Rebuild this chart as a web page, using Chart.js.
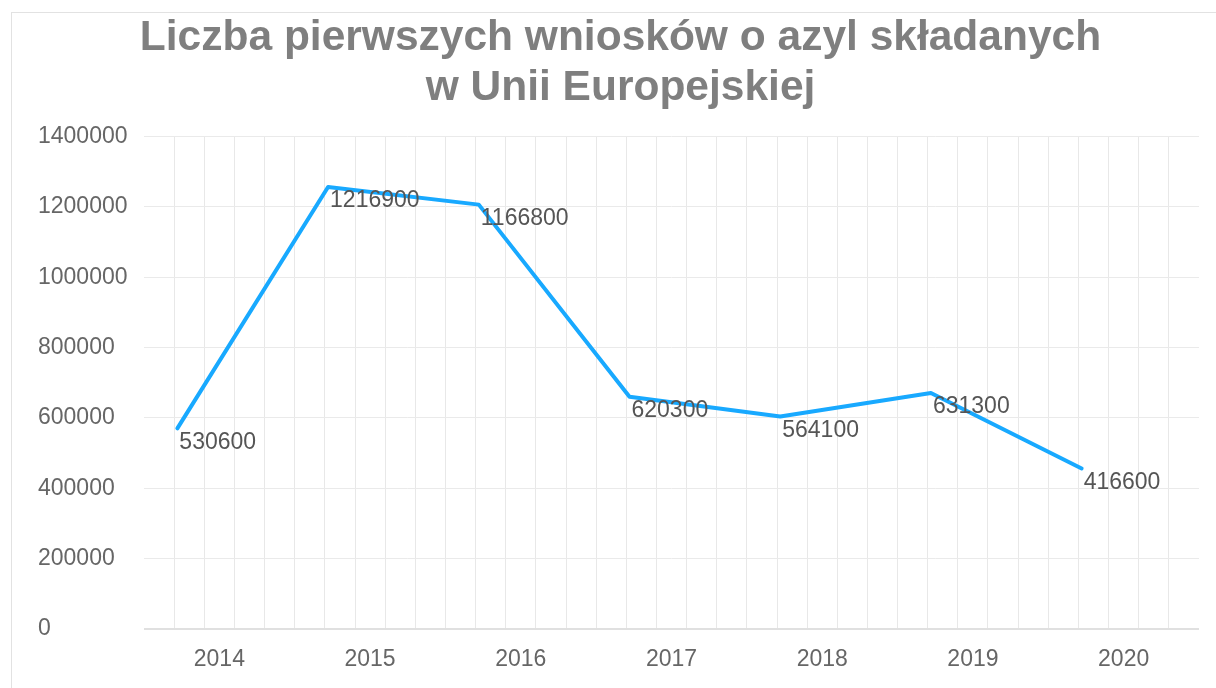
<!DOCTYPE html>
<html>
<head>
<meta charset="utf-8">
<script src="https://cdn.jsdelivr.net/npm/chart.js@4.4.1/dist/chart.umd.min.js"></script>
<style>
  html, body { margin: 0; padding: 0; background: #ffffff; }
  #wrap { position: relative; width: 1216px; height: 688px; overflow: hidden; }
  #frame { position: absolute; left: 11px; top: 12px; width: 1300px; height: 800px; border: 1px solid #e2e2e2; box-sizing: border-box; }
  canvas { position: absolute; left: 0; top: 0; }
</style>
</head>
<body>
<div id="wrap">
  <div id="frame"></div>
  <canvas id="c" width="1216" height="688"></canvas>
</div>
<script>
// ---- data ----
const years = ['2014', '2015', '2016', '2017', '2018', '2019', '2020'];
const applications = [530600, 1216900, 1166800, 620300, 564100, 631300, 416600];
const titleLines = ['Liczba pierwszych wniosków o azyl składanych', 'w Unii Europejskiej'];
const yTicks = { min: 0, max: 1400000, step: 200000 };

// ---- style ----
const FONT = "'Liberation Sans', Arial, sans-serif";
const lineShift = { x: -42, y: -14 };   // the reference draws the line offset from its labels
const labelGap = 2;
const minorPerCategory = 5;

const shiftPlugin = {
  id: 'shiftLine',
  beforeDatasetDraw(chart) { chart.ctx.save(); chart.ctx.translate(lineShift.x, lineShift.y); },
  afterDatasetDraw(chart) { chart.ctx.restore(); }
};

const labelPlugin = {
  id: 'valueLabels',
  afterDatasetsDraw(chart) {
    const ctx = chart.ctx;
    const meta = chart.getDatasetMeta(0);
    ctx.save();
    ctx.font = '23px ' + FONT;
    ctx.fillStyle = '#555555';
    ctx.textAlign = 'left';
    ctx.textBaseline = 'middle';
    meta.data.forEach((pt, i) => {
      ctx.fillText(String(applications[i]), pt.x + lineShift.x + labelGap, pt.y);
    });
    ctx.restore();
  }
};

new Chart(document.getElementById('c'), {
  type: 'line',
  data: {
    datasets: [{
      data: applications.map((v, i) => ({ x: i + 0.5, y: v })),
      borderColor: '#18a9ff',
      borderWidth: 4,
      pointRadius: 0,
      tension: 0,
      borderJoinStyle: 'round',
      borderCapStyle: 'round',
      fill: false
    }]
  },
  options: {
    responsive: false,
    animation: false,
    layout: { padding: { left: 38, right: 13, top: 0, bottom: 0 } },
    plugins: {
      legend: { display: false },
      tooltip: { enabled: false },
      title: {
        display: true,
        text: titleLines,
        color: '#7f7f7f',
        font: { family: FONT, size: 42.5, weight: 'bold', lineHeight: 1.16 },
        padding: { top: 14, bottom: 24 }
      }
    },
    scales: {
      x: {
        type: 'linear',
        min: 0,
        max: years.length,
        afterFit(s) { s.height = 59; },
        border: { display: false },
        grid: {
          drawTicks: false,
          lineWidth: 1,
          color(ctx) {
            const k = Math.round(ctx.tick.value * 10);
            if (k <= 0 || k >= years.length * 10) return 'rgba(0,0,0,0)';
            return (k % (10 / minorPerCategory) === 0) ? '#e8e8e8' : 'rgba(0,0,0,0)';
          }
        },
        ticks: {
          stepSize: 0.1,
          autoSkip: false,
          maxRotation: 0,
          padding: 17,
          color: '#666666',
          font: { family: FONT, size: 23 },
          callback(v) {
            const k = Math.round(v * 10);
            if (k % 10 === 5) return years[Math.floor(k / 10)];
            return '';
          }
        }
      },
      y: {
        min: yTicks.min,
        max: yTicks.max,
        afterFit(s) { s.width = 106; },
        border: { display: false },
        grid: {
          drawTicks: false,
          color(ctx) { return ctx.tick.value === 0 ? '#e0e0e0' : '#eaeaea'; },
          lineWidth(ctx) { return ctx.tick.value === 0 ? 2 : 1; }
        },
        ticks: {
          stepSize: yTicks.step,
          crossAlign: 'far',
          padding: 0,
          color: '#666666',
          font: { family: FONT, size: 23 },
          callback(v) { return String(v); }
        }
      }
    }
  },
  plugins: [shiftPlugin, labelPlugin]
});
</script>
</body>
</html>
